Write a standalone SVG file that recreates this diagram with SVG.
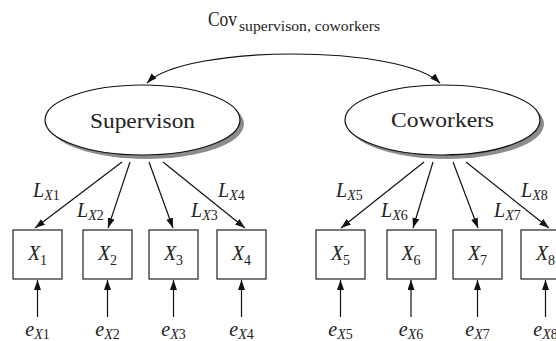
<svg xmlns="http://www.w3.org/2000/svg" width="556" height="341" viewBox="0 0 556 341">
<defs>
<marker id="ah" markerWidth="11" markerHeight="8" refX="10" refY="3.5" orient="auto-start-reverse" markerUnits="userSpaceOnUse">
<path d="M0,0 L10,3.5 L0,7 z" fill="#111"/>
</marker>
<style>
text{font-family:"Liberation Serif","DejaVu Serif",serif;fill:#222}
.lat{font-size:21px}
.lbl{font-size:20px;font-style:italic}
.sub{font-size:14px}
.up{font-style:normal}
.box{fill:#fff;stroke:#222;stroke-width:1.2}
.ell{fill:#fff;stroke:#111;stroke-width:1.2}
.shadow{fill:#8c8c8c}
.con{fill:none;stroke:#111;stroke-width:1.2}
.con.a{marker-end:url(#ah)}
</style>
</defs>
<text x="208" y="26" font-size="20" textLength="29" lengthAdjust="spacingAndGlyphs">Cov</text>
<text x="239" y="31" font-size="14" textLength="141" lengthAdjust="spacingAndGlyphs">supervison, coworkers</text>
<g id="connectors">
<path class="con" d="M147,83 C185,44.3 400,44.3 440,83" marker-start="url(#ah)" marker-end="url(#ah)"/>
<line class="con a" x1="122" y1="162" x2="35" y2="228"/>
<line class="con a" x1="130" y1="162" x2="108" y2="228"/>
<line class="con a" x1="149" y1="162" x2="173" y2="228"/>
<line class="con a" x1="163" y1="162" x2="245" y2="228"/>
<line class="con a" x1="424" y1="162" x2="341" y2="228"/>
<line class="con a" x1="433" y1="162" x2="413" y2="228"/>
<line class="con a" x1="453" y1="162" x2="478" y2="228"/>
<line class="con a" x1="466" y1="162" x2="549" y2="228"/>
<line class="con a" x1="37.5" y1="317" x2="37.5" y2="280"/>
<line class="con a" x1="107.5" y1="317" x2="107.5" y2="280"/>
<line class="con a" x1="173.5" y1="317" x2="173.5" y2="280"/>
<line class="con a" x1="241.5" y1="317" x2="241.5" y2="280"/>
<line class="con a" x1="340.5" y1="317" x2="340.5" y2="280"/>
<line class="con a" x1="411" y1="317" x2="411" y2="280"/>
<line class="con a" x1="477.5" y1="317" x2="477.5" y2="280"/>
<line class="con a" x1="545.5" y1="317" x2="545.5" y2="280"/>
<text class="lbl" x="33" y="197">L<tspan class="sub" dy="3">X<tspan class="up">1</tspan></tspan></text>
<text class="lbl" x="77" y="217">L<tspan class="sub" dy="3">X<tspan class="up">2</tspan></tspan></text>
<text class="lbl" x="191" y="217">L<tspan class="sub" dy="3">X<tspan class="up">3</tspan></tspan></text>
<text class="lbl" x="218" y="197">L<tspan class="sub" dy="3">X<tspan class="up">4</tspan></tspan></text>
<text class="lbl" x="336" y="197">L<tspan class="sub" dy="3">X<tspan class="up">5</tspan></tspan></text>
<text class="lbl" x="381" y="217">L<tspan class="sub" dy="3">X<tspan class="up">6</tspan></tspan></text>
<text class="lbl" x="494" y="217">L<tspan class="sub" dy="3">X<tspan class="up">7</tspan></tspan></text>
<text class="lbl" x="521" y="197">L<tspan class="sub" dy="3">X<tspan class="up">8</tspan></tspan></text>
</g>
<g id="supervison">
<ellipse class="shadow" cx="146.5" cy="124" rx="97.5" ry="35"/>
<ellipse class="ell" cx="142.5" cy="120" rx="97.5" ry="35"/>
<text class="lat" x="90" y="128" textLength="105" lengthAdjust="spacingAndGlyphs">Supervison</text>
</g>
<g id="coworkers">
<ellipse class="shadow" cx="446.5" cy="124" rx="97.5" ry="35"/>
<ellipse class="ell" cx="442.5" cy="120" rx="97.5" ry="35"/>
<text class="lat" x="391" y="127" textLength="103" lengthAdjust="spacingAndGlyphs">Coworkers</text>
</g>
<g id="x1"><rect class="box" x="13" y="230" width="49" height="49"/><text class="lbl" x="37.5" y="260" text-anchor="middle" font-size="21">X<tspan class="sub up" dy="5">1</tspan></text></g>
<g id="x2"><rect class="box" x="83" y="230" width="49" height="49"/><text class="lbl" x="107.5" y="260" text-anchor="middle" font-size="21">X<tspan class="sub up" dy="5">2</tspan></text></g>
<g id="x3"><rect class="box" x="149" y="230" width="49" height="49"/><text class="lbl" x="173.5" y="260" text-anchor="middle" font-size="21">X<tspan class="sub up" dy="5">3</tspan></text></g>
<g id="x4"><rect class="box" x="217" y="230" width="49" height="49"/><text class="lbl" x="241.5" y="260" text-anchor="middle" font-size="21">X<tspan class="sub up" dy="5">4</tspan></text></g>
<g id="x5"><rect class="box" x="316" y="230" width="49" height="49"/><text class="lbl" x="340.5" y="260" text-anchor="middle" font-size="21">X<tspan class="sub up" dy="5">5</tspan></text></g>
<g id="x6"><rect class="box" x="387" y="230" width="49" height="49"/><text class="lbl" x="411" y="260" text-anchor="middle" font-size="21">X<tspan class="sub up" dy="5">6</tspan></text></g>
<g id="x7"><rect class="box" x="453" y="230" width="49" height="49"/><text class="lbl" x="477.5" y="260" text-anchor="middle" font-size="21">X<tspan class="sub up" dy="5">7</tspan></text></g>
<g id="x8"><rect class="box" x="521" y="230" width="49" height="49"/><text class="lbl" x="545.5" y="260" text-anchor="middle" font-size="21">X<tspan class="sub up" dy="5">8</tspan></text></g>
<g id="e1"><text class="lbl" x="37.5" y="336" text-anchor="middle" font-size="22">e<tspan class="sub" dy="3">X<tspan class="up">1</tspan></tspan></text></g>
<g id="e2"><text class="lbl" x="107.5" y="336" text-anchor="middle" font-size="22">e<tspan class="sub" dy="3">X<tspan class="up">2</tspan></tspan></text></g>
<g id="e3"><text class="lbl" x="173.5" y="336" text-anchor="middle" font-size="22">e<tspan class="sub" dy="3">X<tspan class="up">3</tspan></tspan></text></g>
<g id="e4"><text class="lbl" x="241.5" y="336" text-anchor="middle" font-size="22">e<tspan class="sub" dy="3">X<tspan class="up">4</tspan></tspan></text></g>
<g id="e5"><text class="lbl" x="340.5" y="336" text-anchor="middle" font-size="22">e<tspan class="sub" dy="3">X<tspan class="up">5</tspan></tspan></text></g>
<g id="e6"><text class="lbl" x="411" y="336" text-anchor="middle" font-size="22">e<tspan class="sub" dy="3">X<tspan class="up">6</tspan></tspan></text></g>
<g id="e7"><text class="lbl" x="477.5" y="336" text-anchor="middle" font-size="22">e<tspan class="sub" dy="3">X<tspan class="up">7</tspan></tspan></text></g>
<g id="e8"><text class="lbl" x="545.5" y="336" text-anchor="middle" font-size="22">e<tspan class="sub" dy="3">X<tspan class="up">8</tspan></tspan></text></g>
</svg>
